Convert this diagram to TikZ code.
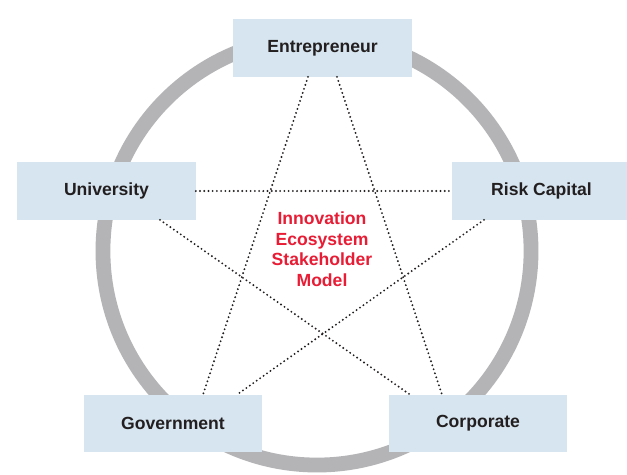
\documentclass[tikz,border=0pt]{standalone}
\usepackage{fontspec}
\setmainfont{Liberation Sans}
\usepackage{tikz}
\usetikzlibrary{positioning, calc}

\definecolor{boxblue}{RGB}{214,229,239}
\definecolor{ringgray}{RGB}{180,180,183}
\definecolor{modelred}{RGB}{232,28,52}
\definecolor{labeldark}{RGB}{35,31,32}

\begin{document}
\begin{tikzpicture}[
        x=0.025cm, y=-0.025cm,
        holder/.style={rectangle, fill=boxblue, minimum width=4.45cm, minimum height=1.43cm, align=center, text=labeldark, font=\fontsize{12.5}{15}\selectfont\bfseries},
        link/.style={line width=1.5pt, dash pattern=on 0pt off 3pt, line cap=round, draw=labeldark}
    ]
        \useasboundingbox (0,0) rectangle (627,475);
        \fill[white] (0,0) rectangle (627,475);
        \draw[ringgray, line width=0.37cm] (317,251) circle[radius=5.35cm];

        \node[holder] (entre) at (322.5,48) {Entrepreneur};
        \node[holder] (univ) at (106.5,191) {University};
        \node[holder] (risk) at (541.5,191) {Risk Capital};
        \node[holder] (gov) at (173,423.5) {Government};
        \node[holder] (corp) at (478,423.5) {Corporate};

        \node[align=center, text=modelred, font=\fontsize{12.5}{14.6}\selectfont\bfseries] (model) at (322,249) {Innovation\\Ecosystem\\Stakeholder\\Model};

        \draw[link] ($(entre.south)+(-14.5,0)$) -- ($(gov.north)+(30,0)$);
        \draw[link] ($(entre.south)+(14.5,0)$) -- ($(corp.north)+(-36,0)$);
        \draw[link] (univ.east) -- (risk.west);
        \draw[link] ($(univ.south)+(53.5,0)$) -- ($(corp.north)+(-68,0)$);
        \draw[link] ($(risk.south)+(-57.5,0)$) -- ($(gov.north)+(64,0)$);
    \end{tikzpicture}
\end{document}
